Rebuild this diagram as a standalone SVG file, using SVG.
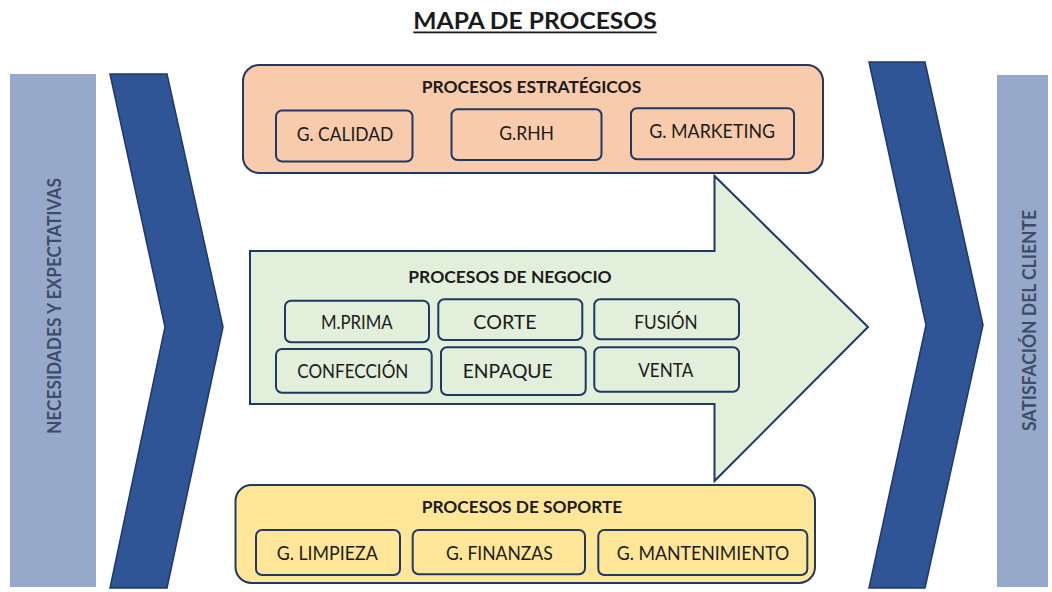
<svg xmlns="http://www.w3.org/2000/svg" width="1052" height="592" viewBox="0 0 1052 592">
<defs>
<style>
text{font-family:Lato,"Open Sans","Liberation Sans",sans-serif;fill:#1b1b1b}
.t{font-weight:bold;font-size:17px}
.s{font-size:19px}
.v{font-weight:bold;font-size:19px;fill:#3e4d66}
.bar{fill:#97a9cb}
.chev{fill:#2f5597;stroke:#1f3864;stroke-width:1.5;stroke-linejoin:miter}
.box{stroke:#1f3864;stroke-width:2}
.sub{fill:none;stroke:#1f3864;stroke-width:2}
</style>
</defs>
<rect width="1052" height="592" fill="#ffffff"/>
<g id="title">
<text x="413.3" y="29" style="font-weight:bold;font-size:22px" textLength="243.4" lengthAdjust="spacingAndGlyphs">MAPA DE PROCESOS</text>
<rect x="413.3" y="31.5" width="243.4" height="1.8" fill="#1b1b1b"/>
</g>
<g id="necesidades">
<rect class="bar" x="10" y="74" width="86" height="513"/>
<text class="v" transform="translate(61,434) rotate(-90)" textLength="256" lengthAdjust="spacingAndGlyphs">NECESIDADES Y EXPECTATIVAS</text>
</g>
<g id="chevron-left">
<polygon class="chev" points="110,74 167,74 223,327 167,588 110,588 165,327"/>
</g>
<g id="chevron-right">
<polygon class="chev" points="869,62 925,62 983,325 925,588 869,588 926,325"/>
</g>
<g id="satisfaccion">
<rect class="bar" x="997" y="75" width="51" height="512"/>
<text class="v" transform="translate(1036,431) rotate(-90)" textLength="221" lengthAdjust="spacingAndGlyphs">SATISFACIÓN DEL CLIENTE</text>
</g>
<g id="negocio">
<polygon class="box" fill="#e2efda" points="250,251 714.5,251 714.5,176 868,327 714.5,481 714.5,404 250,404"/>
<text class="t" x="408.3" y="283.3" textLength="203.4" lengthAdjust="spacingAndGlyphs">PROCESOS DE NEGOCIO</text>
<g id="mprima"><rect class="sub" x="285" y="300.7" width="144" height="41.6" rx="6"/><text class="s" x="321" y="329" textLength="71.7" lengthAdjust="spacingAndGlyphs">M.PRIMA</text></g>
<g id="corte"><rect class="sub" x="438.3" y="299.3" width="144" height="40.7" rx="6"/><text class="s" x="473.3" y="329" textLength="63.4" lengthAdjust="spacingAndGlyphs">CORTE</text></g>
<g id="fusion"><rect class="sub" x="594.3" y="299.3" width="144.7" height="40" rx="6"/><text class="s" x="634.3" y="329" textLength="63.4" lengthAdjust="spacingAndGlyphs">FUSIÓN</text></g>
<g id="confeccion"><rect class="sub" x="276" y="349" width="155.7" height="43.7" rx="6"/><text class="s" x="297.3" y="378.3" textLength="111" lengthAdjust="spacingAndGlyphs">CONFECCIÓN</text></g>
<g id="enpaque"><rect class="sub" x="441" y="347.3" width="144.7" height="47.7" rx="6"/><text class="s" x="462.7" y="377.7" textLength="90" lengthAdjust="spacingAndGlyphs">ENPAQUE</text></g>
<g id="venta"><rect class="sub" x="594.3" y="347.3" width="144.7" height="44.4" rx="6"/><text class="s" x="638.3" y="376.7" textLength="55" lengthAdjust="spacingAndGlyphs">VENTA</text></g>
</g>
<g id="estrategicos">
<rect class="box" fill="#f8cbad" x="243" y="65" width="580" height="108" rx="16"/>
<text class="t" x="421.7" y="92.5" textLength="219.5" lengthAdjust="spacingAndGlyphs">PROCESOS ESTRATÉGICOS</text>
<g id="calidad"><rect class="sub" x="276" y="110.5" width="136.5" height="51" rx="6"/><text class="s" x="296.7" y="140.7" textLength="96.6" lengthAdjust="spacingAndGlyphs">G. CALIDAD</text></g>
<g id="rhh"><rect class="sub" x="451.5" y="109.3" width="150" height="50.7" rx="6"/><text class="s" x="499.3" y="140" textLength="54.7" lengthAdjust="spacingAndGlyphs">G.RHH</text></g>
<g id="marketing"><rect class="sub" x="631" y="108.3" width="163" height="51" rx="6"/><text class="s" x="649.3" y="138.3" textLength="125.7" lengthAdjust="spacingAndGlyphs">G. MARKETING</text></g>
</g>
<g id="soporte">
<rect class="box" fill="#ffe699" x="235.5" y="485" width="579.5" height="98" rx="16"/>
<text class="t" x="421.7" y="513.3" textLength="200.6" lengthAdjust="spacingAndGlyphs">PROCESOS DE SOPORTE</text>
<g id="limpieza"><rect class="sub" x="256" y="530" width="144" height="45" rx="6"/><text class="s" x="276.7" y="560" textLength="101" lengthAdjust="spacingAndGlyphs">G. LIMPIEZA</text></g>
<g id="finanzas"><rect class="sub" x="412.7" y="530" width="172.3" height="44.3" rx="6"/><text class="s" x="446" y="560" textLength="106.7" lengthAdjust="spacingAndGlyphs">G. FINANZAS</text></g>
<g id="mantenimiento"><rect class="sub" x="598.3" y="530" width="209" height="45" rx="6"/><text class="s" x="616.7" y="560" textLength="172.6" lengthAdjust="spacingAndGlyphs">G. MANTENIMIENTO</text></g>
</g>
<g id="connectors"></g>
</svg>
